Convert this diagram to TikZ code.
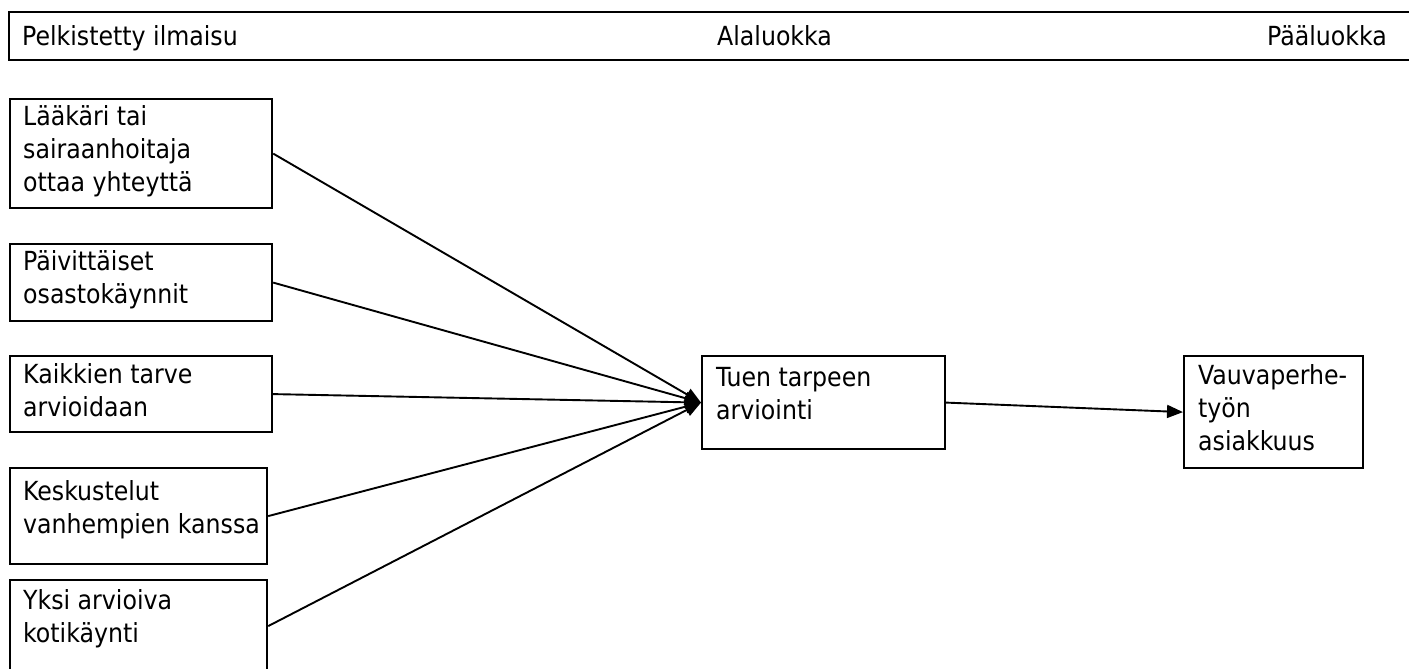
\documentclass[tikz,border=0pt]{standalone}
\usepackage{fontspec}
\setmainfont{DejaVu Sans Condensed}
\usetikzlibrary{arrows.meta}
\begin{document}
\begin{tikzpicture}[x=1pt,y=-1pt,
  box/.style={draw, line width=2.2pt, anchor=north west, inner sep=0pt},
  txt/.style={anchor=base west, inner sep=0pt, font=\fontsize{26.3}{33}\selectfont},
  arr/.style={line width=1.9pt, -{Triangle[length=16pt,width=13pt]}}]
\useasboundingbox (0,0) rectangle (1409,669);
\clip (0,0) rectangle (1409,669);
\fill[white] (0,0) rectangle (1409,669);

% column header strip
\node[box, minimum width=1420pt, minimum height=48pt] (hdr) at (8,11) {};
\node[txt] (h1) at ([shift={(14,35)}]hdr.north west) {Pelkistetty ilmaisu};
\node[txt] (h2) at ([shift={(709,35)}]hdr.north west) {Alaluokka};
\node[txt] (h3) at ([shift={(1259,35)}]hdr.north west) {Pääluokka};

% simplified expressions
\node[box, minimum width=262pt, minimum height=109pt] (b1) at (9,98) {};
\node[box, minimum width=262pt, minimum height=77pt]  (b2) at (9,243) {};
\node[box, minimum width=262pt, minimum height=76pt]  (b3) at (9,355) {};
\node[box, minimum width=257pt, minimum height=96pt]  (b4) at (9,467) {};
\node[box, minimum width=257pt, minimum height=92pt]  (b5) at (9,579) {};

\node[txt] (t1) at ([shift={(14,27)}]b1.north west)
  {\begin{tabular}[t]{@{}l@{}}Lääkäri tai\\sairaanhoitaja\\ottaa yhteyttä\end{tabular}};
\node[txt] (t2) at ([shift={(14,27)}]b2.north west)
  {\begin{tabular}[t]{@{}l@{}}Päivittäiset\\osastokäynnit\end{tabular}};
\node[txt] (t3) at ([shift={(14,28)}]b3.north west)
  {\begin{tabular}[t]{@{}l@{}}Kaikkien tarve\\arvioidaan\end{tabular}};
\node[txt] (t4) at ([shift={(14,33)}]b4.north west)
  {\begin{tabular}[t]{@{}l@{}}Keskustelut\\vanhempien kanssa\end{tabular}};
\node[txt] (t5) at ([shift={(14,30)}]b5.north west)
  {\begin{tabular}[t]{@{}l@{}}Yksi arvioiva\\kotikäynti\end{tabular}};

% subcategory and main category
\node[box, minimum width=243pt, minimum height=93pt]  (mid) at (701,355) {};
\node[txt] (tm) at ([shift={(15,31)}]mid.north west)
  {\begin{tabular}[t]{@{}l@{}}Tuen tarpeen\\arviointi\end{tabular}};
\node[box, minimum width=179pt, minimum height=112pt] (top) at (1183,355) {};
\node[txt] (tt) at ([shift={(15,29)}]top.north west)
  {\begin{tabular}[t]{@{}l@{}}Vauvaperhe-\\työn\\asiakkuus\end{tabular}};

% connectors
\foreach \b in {b1,b2,b3,b4,b5}
  \draw[arr] (\b.east) -- (mid.west);
\draw[arr] (mid.east) -- (top.west);
\end{tikzpicture}
\end{document}
